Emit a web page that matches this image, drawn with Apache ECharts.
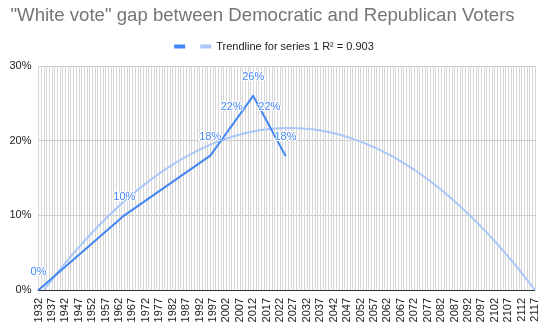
<!DOCTYPE html>
<html>
<head>
<meta charset="utf-8">
<script src="https://cdn.jsdelivr.net/npm/echarts@6/dist/echarts.min.js"></script>
<style>
html,body{margin:0;padding:0;background:#fff;}
#chart{width:548px;height:333px;}
</style>
</head>
<body>
<div id="chart"></div>
<script>
// ---- data ----
const titleText = '"White vote" gap between Democratic and Republican Voters';
const seriesName = ' ';
const trendName = 'Trendline for series 1 R\u00B2 = 0.903';
const years = [1932, 1964, 1996, 2004, 2012, 2018, 2024];
const gapPct = [0, 10, 18, 22, 26, 22, 18];
const trendYears = [1934, 1937, 1942, 1947, 1952, 1957, 1962, 1967, 1972, 1977, 1982, 1987, 1992, 1997, 2002, 2007, 2012, 2017, 2022, 2027, 2032, 2037, 2042, 2047, 2052, 2057, 2062, 2067, 2072, 2077, 2082, 2087, 2092, 2097, 2102, 2107, 2112, 2117];
const trendPct = [0, 1.40, 3.63, 5.73, 7.70, 9.54, 11.25, 12.83, 14.28, 15.60, 16.80, 17.86, 18.79, 19.60, 20.27, 20.81, 21.23, 21.51, 21.67, 21.70, 21.59, 21.36, 21.00, 20.50, 19.88, 19.13, 18.25, 17.24, 16.10, 14.83, 13.43, 11.90, 10.24, 8.45, 6.53, 4.48, 2.31, 0];
const xMin = 1932, xMax = 2117, xLabelStep = 5;
const yTicks = [0, 10, 20, 30];

const FONT = 'Arial, "Liberation Sans", sans-serif';
const BLUE = '#4285f4';
const LIGHT = '#abc8fa';

const chart = echarts.init(document.getElementById('chart'));
chart.setOption({
  animation: false,
  textStyle: { fontFamily: FONT },
  title: {
    text: titleText,
    left: 10.5, top: 6, padding: 0,
    textStyle: { fontFamily: FONT, fontSize: 18.6, fontWeight: 'normal', color: '#757575' }
  },
  legend: {
    top: 36, left: 'center',
    icon: 'rect', itemWidth: 11, itemHeight: 4, itemGap: 7,
    data: [{ name: seriesName }, { name: trendName }],
    textStyle: { fontFamily: FONT, fontSize: 11, color: '#222' }
  },
  grid: { left: 38.5, right: 13, top: 66, bottom: 43, containLabel: false },
  xAxis: {
    type: 'value', min: xMin, max: xMax, interval: 1,
    axisLine: { show: false },
    axisTick: { show: false },
    splitLine: { show: true, lineStyle: { color: '#d6d6d6', width: 1 } },
    axisLabel: {
      rotate: 90, margin: 8, fontSize: 11, color: '#222', fontFamily: FONT,
      formatter: v => ((v - xMin) % xLabelStep === 0 ? String(v) : '')
    }
  },
  yAxis: {
    type: 'value', min: yTicks[0], max: yTicks[yTicks.length - 1], interval: yTicks[1] - yTicks[0],
    axisLine: { show: false },
    axisTick: { show: false },
    splitLine: { lineStyle: { color: '#cccccc' } },
    axisLabel: { margin: 7, fontSize: 11, color: '#222', fontFamily: FONT, formatter: '{value}%' }
  },
  series: [
    {
      name: trendName, type: 'line', smooth: true, symbol: 'none', z: 2,
      lineStyle: { color: LIGHT, width: 2 }, itemStyle: { color: LIGHT },
      data: trendYears.map((y, i) => [y, trendPct[i]])
    },
    {
      name: seriesName, type: 'line', z: 3,
      symbol: 'circle', symbolSize: 2,
      lineStyle: { color: BLUE, width: 2 }, itemStyle: { color: BLUE },
      label: {
        show: true, position: 'top', distance: 12,
        fontSize: 11, fontFamily: FONT, color: BLUE,
        textBorderColor: '#fff', textBorderWidth: 2,
        formatter: p => p.value[1] + '%'
      },
      data: years.map((y, i) => [y, gapPct[i]]),
      markLine: {
        silent: true, symbol: 'none', label: { show: false },
        lineStyle: { color: '#333', width: 1, type: 'solid' },
        data: [{ yAxis: 0 }]
      }
    }
  ]
});
</script>
</body>
</html>
